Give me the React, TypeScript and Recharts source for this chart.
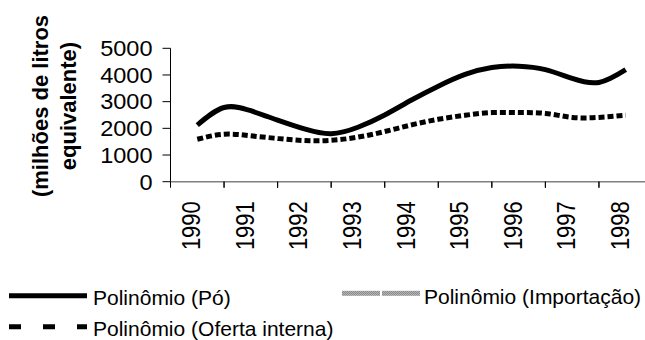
import React from 'react'
import { Line, LineChart, XAxis, YAxis } from 'recharts'

// half-year readings of the two trend curves
const years = [1990, 1990.5, 1991, 1991.5, 1992, 1992.5, 1993, 1993.5, 1994, 1994.5, 1995, 1995.5, 1996, 1996.5, 1997, 1997.5, 1998]
const po = [2120, 2780, 2660, 2310, 1980, 1800, 2040, 2500, 3060, 3580, 4020, 4280, 4330, 4200, 3870, 3720, 4200]
const ofertaInterna = [1590, 1780, 1720, 1620, 1540, 1550, 1670, 1880, 2130, 2340, 2490, 2590, 2590, 2560, 2410, 2410, 2490]

const yearTicks = [1990, 1991, 1992, 1993, 1994, 1995, 1996, 1997, 1998]
const valueTicks = [0, 1000, 2000, 3000, 4000, 5000]

const data = years.map((year, i) => ({ year, po: po[i], oferta: ofertaInterna[i] }))

const FONT = 'Liberation Sans, Arial, Helvetica, sans-serif'
const CHART_W = 660
const PLOT_W = 482
const HB = PLOT_W / 18

const XTick = ({ x, y, payload }: any) => (
  <g>
    <line x1={x - HB} x2={x - HB} y1={y} y2={y + 6} stroke="#000" />
    <line x1={x + HB} x2={x + HB} y1={y} y2={y + 6} stroke="#000" />
    <text
      transform={`translate(${x + 3},${y + 19.5}) rotate(-90) scale(1,1.15)`}
      textAnchor="end"
      fontSize={22}
      style={{ fontFamily: FONT }}
      fill="#000"
    >
      {payload.value}
    </text>
  </g>
)

const YTick = ({ x, y, payload }: any) => (
  <text
    transform={`translate(${x},${y}) scale(1.07,1)`}
    textAnchor="end"
    dy="0.355em"
    fontSize={22}
    style={{ fontFamily: FONT }}
    fill="#000"
  >
    {payload.value}
  </text>
)

const App = () => {
  return (
    <div style={{ position: 'absolute', left: 0, top: 0, width: 645, height: 340, overflow: 'hidden', background: '#fff' }}>
      <LineChart
        width={CHART_W}
        height={340}
        data={data}
        margin={{ top: 48.3, left: 110.5, right: CHART_W - 170.5 - PLOT_W, bottom: 98.3 }}
      >
        <XAxis
          dataKey="year"
          type="number"
          domain={[1989.5, 1998.5]}
          ticks={yearTicks}
          interval={0}
          height={60}
          tickSize={0}
          tickMargin={0}
          tickLine={false}
          axisLine={{ stroke: '#808080', strokeWidth: 1.5 }}
          tick={XTick}
        />
        <YAxis
          domain={[0, 5000]}
          ticks={valueTicks}
          interval={0}
          width={60}
          tickSize={8}
          tickMargin={10}
          axisLine={{ stroke: '#000' }}
          tickLine={{ stroke: '#000' }}
          tick={YTick}
        />
        <Line isAnimationActive={false} type="natural" dataKey="po" stroke="#000" strokeWidth={5} dot={false} />
        <Line isAnimationActive={false} type="natural" dataKey="oferta" stroke="#000" strokeWidth={5} strokeDasharray="6 3" dot={false} />
      </LineChart>

      <svg width={645} height={340} style={{ position: 'absolute', left: 0, top: 0, pointerEvents: 'none', fontFamily: FONT }}>
        <defs>
          <pattern id="grayck" width={2} height={2} patternUnits="userSpaceOnUse">
            <rect width={2} height={2} fill="#b4b4b4" />
            <rect width={1} height={1} fill="#8c8c8c" />
            <rect x={1} y={1} width={1} height={1} fill="#8c8c8c" />
          </pattern>
        </defs>
        <g fontWeight="bold" fontSize={22} fill="#000" textAnchor="middle">
          <text transform="translate(48,106) rotate(-90)">(milhões de litros</text>
          <text transform="translate(76,106) rotate(-90)">equivalente)</text>
        </g>
        <g fontSize={21} fill="#000">
          <line x1={9} x2={87} y1={295.7} y2={295.7} stroke="#000" strokeWidth={5} />
          <text x={93} y={305}>Polinômio (Pó)</text>
          <rect x={342} y={290.8} width={38} height={5} fill="url(#grayck)" />
          <rect x={382} y={290.8} width={38} height={5} fill="url(#grayck)" />
          <text x={424} y={303.5}>Polinômio (Importação)</text>
          <line x1={9} x2={87} y1={326.7} y2={326.7} stroke="#000" strokeWidth={5} strokeDasharray="12 22" />
          <text x={93} y={335.5}>Polinômio (Oferta interna)</text>
        </g>
      </svg>
    </div>
  )
}

export default App
